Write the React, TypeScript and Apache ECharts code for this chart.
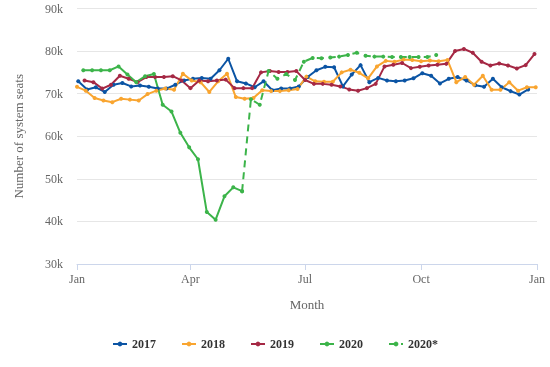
import React, { useEffect, useRef } from "react";
import * as echarts from "echarts";

const monthTicks = [0, 90, 181, 273, 365];
const monthLabels = ["Jan", "Apr", "Jul", "Oct", "Jan"];
const yTicks = [30000, 40000, 50000, 60000, 70000, 80000, 90000];

// weekly series: first day of year for first point, then one point per week
const start2017 = 1;
const values2017 = [72.9, 71.0, 71.5, 70.4, 72.1, 72.5, 71.7, 71.9, 71.6, 71.2, 71.2, 72.1, 73.1, 73.5, 73.7, 73.5, 75.5, 78.2, 72.9, 72.4, 71.5, 72.9, 70.8, 71.2, 71.2, 71.7, 73.9, 75.5, 76.3, 76.2, 71.7, 74.5, 76.7, 72.7, 73.7, 73.1, 72.9, 73.1, 73.6, 74.8, 74.2, 72.4, 73.5, 73.9, 73.1, 72.0, 71.6, 73.5, 71.5, 70.6, 69.8, 71.0];

const start2018 = 0;
const values2018 = [71.6, 70.7, 69.0, 68.4, 68.0, 68.8, 68.6, 68.4, 69.9, 70.7, 71.2, 70.9, 74.7, 73.1, 72.7, 70.4, 72.9, 74.7, 69.2, 68.8, 69.0, 70.8, 70.6, 70.6, 70.8, 71.1, 74.0, 72.9, 72.8, 72.8, 75.0, 75.6, 74.9, 73.6, 76.4, 77.7, 77.5, 78.0, 77.9, 77.6, 77.8, 77.6, 77.9, 72.7, 73.9, 72.1, 74.2, 70.9, 70.9, 72.7, 70.7, 71.5, 71.5];

const start2019 = 6;
const values2019 = [73.1, 72.7, 71.2, 72.1, 74.2, 73.5, 72.7, 73.9, 73.9, 73.9, 74.1, 73.1, 71.3, 73.1, 72.9, 73.1, 73.3, 71.3, 71.3, 71.3, 75.0, 75.3, 75.1, 75.1, 75.3, 73.2, 72.3, 72.3, 72.1, 71.7, 71.0, 70.7, 71.3, 72.3, 76.4, 76.8, 77.2, 76.0, 76.3, 76.6, 76.8, 77.0, 80.0, 80.5, 79.6, 77.5, 76.6, 77.1, 76.6, 75.9, 76.7, 79.3];

const start2020 = 5;
const values2020 = [75.5, 75.5, 75.5, 75.5, 76.4, 74.5, 72.7, 74.1, 74.6, 67.4, 65.8, 60.8, 57.4, 54.6, 42.2, 40.4, 45.9, 48.0, 47.1];

const start2020s = 131;
const values2020s = [47.1, 68.7, 67.4, 75.3, 73.5, 74.6, 73.2, 77.5, 78.4, 78.3, 78.5, 78.7, 79.1, 79.6, 78.9, 78.7, 78.7, 78.6, 78.6, 78.6, 78.6, 78.6, 79.1];

const FONT = "'Liberation Serif', 'Times New Roman', serif";

function toPoints(startDay: number, vals: number[]) {
  return vals.map((v, i) => [startDay + 7 * i, v * 1000]);
}

export default function App() {
  const ref = useRef<HTMLDivElement>(null);
  useEffect(() => {
    if (!ref.current) return;
    const chart = echarts.init(ref.current, undefined, { renderer: "svg" });
    const mk = (name: string, color: string, data: number[][], dashed = false) => ({
      name,
      type: "line",
      data,
      symbol: "circle",
      symbolSize: 4,
      showSymbol: true,
      itemStyle: { color },
      lineStyle: { color, width: 2, type: dashed ? [7, 5] : "solid" },
      emphasis: { disabled: true },
    });
    chart.setOption({
      animation: false,
      textStyle: { fontFamily: FONT },
      grid: { left: 77, right: 13, top: 8.5, bottom: 103, containLabel: false },
      xAxis: {
        type: "value",
        min: 0,
        max: 365,
        name: "Month",
        nameLocation: "middle",
        nameGap: 34,
        nameTextStyle: { color: "#666", fontSize: 13, fontFamily: FONT },
        splitLine: { show: false },
        axisLine: { show: true, lineStyle: { color: "#ccd6eb", width: 1 } },
        axisTick: { show: true, length: 6, lineStyle: { color: "#ccd6eb" }, customValues: monthTicks },
        axisLabel: {
          color: "#666",
          fontSize: 12,
          fontFamily: FONT,
          margin: 9,
          customValues: monthTicks,
          formatter: (v: number) => monthLabels[monthTicks.indexOf(v)] ?? "",
        },
      },
      yAxis: {
        type: "value",
        min: yTicks[0],
        max: yTicks[yTicks.length - 1],
        interval: 10000,
        name: "Number of system seats",
        nameLocation: "middle",
        nameGap: 52,
        nameTextStyle: { color: "#666", fontSize: 13, fontFamily: FONT },
        axisLine: { show: false },
        axisTick: { show: false },
        splitLine: { lineStyle: { color: "#e6e6e6", width: 1 } },
        axisLabel: {
          color: "#666",
          fontSize: 12,
          fontFamily: FONT,
          margin: 14,
          formatter: (v: number) => v / 1000 + "k",
        },
      },
      legend: {
        bottom: 12,
        left: "center",
        itemWidth: 14,
        itemHeight: 6,
        itemGap: 25,
        textStyle: { color: "#333", fontWeight: "bold", fontSize: 12, fontFamily: FONT },
        data: ["2017", "2018", "2019", "2020", "2020*"],
      },
      series: [
        mk("2017", "#0b54a4", toPoints(start2017, values2017)),
        mk("2018", "#f9a530", toPoints(start2018, values2018)),
        mk("2019", "#a52844", toPoints(start2019, values2019)),
        mk("2020", "#3cb44a", toPoints(start2020, values2020)),
        mk("2020*", "#3cb44a", toPoints(start2020s, values2020s), true),
      ],
    });
    return () => chart.dispose();
  }, []);
  return <div ref={ref} style={{ position: "fixed", left: 0, top: 0, width: 550, height: 367 }} />;
}
